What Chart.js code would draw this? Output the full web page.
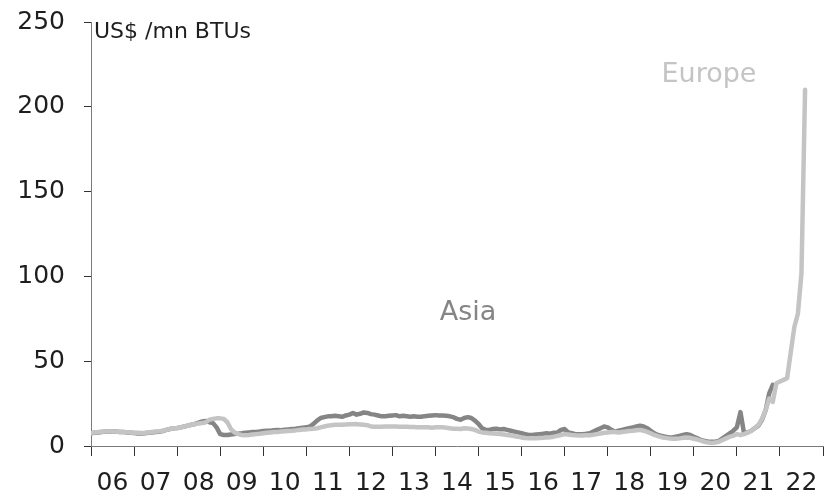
<!DOCTYPE html>
<html>
<head>
<meta charset="utf-8">
<script src="https://cdn.jsdelivr.net/npm/chart.js@4.4.1/dist/chart.umd.min.js"></script>
<style>
  html, body { margin: 0; padding: 0; background: #fff; }
  #wrap { width: 825px; height: 499px; position: relative; }
</style>
</head>
<body>
<div id="wrap"><canvas id="gasChart"></canvas></div>
<script>
// monthly series, first point = Jan 2006
const startYear = 2006;
const yearLabels = ['06', '07', '08', '09', '10', '11', '12', '13', '14', '15', '16', '17', '18', '19', '20', '21', '22'];
const yTicks = [0, 50, 100, 150, 200, 250];

const asiaPrices = [
    7.5, 7.8, 8, 8.3, 8.5, 8.4, 8.6, 8.5, 8.3, 8.2, 8, 7.8,          // 06
    7.6, 7.4, 7.3, 7.5, 7.8, 8, 8.2, 8.4, 8.8, 9.5, 10, 10.4,        // 07
    10.6, 11, 11.5, 12, 12.5, 13, 13.8, 14.5, 14.8, 14, 13.5, 11,    // 08
    7, 6.5, 6.5, 6.8, 7, 7.3, 7.5, 7.8, 8, 8.2, 8.3, 8.5,            // 09
    8.8, 9, 9, 9.3, 9.5, 9.3, 9.6, 9.8, 10, 10.2, 10.5, 10.8,        // 10
    11, 11.5, 13, 15, 16.5, 17, 17.5, 17.5, 17.8, 17.5, 17.2, 18,    // 11
    18.5, 19.5, 18.5, 19, 19.8, 19.5, 18.8, 18.5, 18, 17.5, 17.6, 17.8, // 12
    18, 18.2, 17.5, 17.8, 17.5, 17.2, 17.5, 17.3, 17.2, 17.6, 17.8, 18, // 13
    18.2, 18, 18, 17.8, 17.5, 17, 16, 15.5, 16.5, 17, 16.5, 15,      // 14
    13, 10.5, 9.5, 9.5, 10, 10.2, 9.8, 10, 9.5, 9, 8.5, 8,           // 15
    7.5, 7, 6.5, 6.5, 6.8, 7, 7.2, 7.5, 7.2, 7.8, 8, 9.5,            // 16
    10, 8, 7.5, 7, 7, 7, 7.2, 7.5, 8.5, 9.5, 10.5, 11.5,             // 17
    11, 9.5, 8.5, 9, 9.5, 10, 10.5, 11, 11.5, 12, 11.5, 10.5,        // 18
    9, 7.5, 6.5, 6, 5.5, 5, 5, 5.5, 6, 6.5, 7, 6.5,                  // 19
    5.5, 4.5, 3.5, 3, 2.5, 2.5, 2.5, 3, 4.5, 6, 7.5, 9,              // 20
    11, 20, 7.5, 8, 9, 10.5, 12, 15.5, 21, 31, 36                    // 21
];

const europePrices = [
    7.5, 8, 8.2, 8.4, 8.5, 8.6, 8.5, 8.5, 8.3, 8.3, 8.1, 8,          // 06
    7.8, 7.8, 7.7, 7.8, 8, 8.3, 8.5, 8.7, 9, 9.5, 10, 10.5,          // 07
    10.5, 11, 11.5, 12, 12.5, 13, 13.3, 13.5, 14, 15.5, 16, 16.3,    // 08
    16.3, 16, 14, 10, 8, 7, 6.5, 6.3, 6.5, 6.8, 7, 7.2,              // 09
    7.5, 7.8, 8, 8.2, 8.3, 8.5, 8.7, 8.9, 9, 9.2, 9.5, 9.7,          // 10
    9.8, 10, 10.2, 10.5, 11, 11.5, 12, 12.3, 12.5, 12.5, 12.6, 12.7, // 11
    12.8, 12.8, 12.9, 12.7, 12.5, 12.3, 11.5, 11.3, 11.3, 11.4, 11.5, 11.5, // 12
    11.5, 11.5, 11.4, 11.3, 11.3, 11.2, 11.2, 11, 11, 11, 11, 10.8,  // 13
    11, 11, 11, 10.8, 10.5, 10.2, 10.2, 10, 10.5, 10.3, 10, 9.5,     // 14
    8.5, 8, 7.8, 7.5, 7.3, 7.2, 7, 6.8, 6.5, 6.2, 5.8, 5.5,          // 15
    5, 4.7, 4.5, 4.5, 4.6, 4.7, 4.8, 5, 5.2, 5.5, 6, 6.5,            // 16
    7, 6.8, 6.5, 6.3, 6.2, 6.2, 6.3, 6.4, 6.6, 7, 7.4, 7.8,          // 17
    8, 8.2, 8.3, 8, 8.3, 8.5, 8.8, 9, 9.3, 9.5, 9, 8.3,              // 18
    7.5, 6.5, 5.8, 5.2, 4.8, 4.5, 4.3, 4.3, 4.5, 4.8, 5, 4.8,        // 19
    4.3, 3.8, 3.2, 2.5, 2, 1.8, 2, 2.5, 3.5, 4.5, 5.5, 6,            // 20
    7, 6.5, 7, 8, 9, 10.5, 12.5, 16, 21, 28, 26, 37,                 // 21
    38, 39, 40, 55, 70, 78, 102, 210                                 // 22
];

const palette = {
    asia: '#858585',
    europe: '#c4c4c4',
    axis: '#7a7a7a',
    text: '#1e1e1e'
};

const fontFamily = '"DejaVu Sans", sans-serif';

function toPoints(values) {
    return values.map((v, i) => ({ x: startYear + i / 12, y: v }));
}

// 系列名稱與單位
const textLabels = {
    id: 'textLabels',
    afterDraw(chart) {
        const { ctx, scales } = chart;
        const x = scales.x, y = scales.y;
        ctx.save();
        ctx.textAlign = 'left';
        ctx.textBaseline = 'top';
        ctx.fillStyle = palette.text;
        ctx.font = '22px ' + fontFamily;
        ctx.fillText('US$ /mn BTUs', x.getPixelForValue(2006.07), y.getPixelForValue(250) - 1);

        ctx.textBaseline = 'alphabetic';
        ctx.font = '27px ' + fontFamily;
        ctx.fillStyle = palette.asia;
        ctx.fillText('Asia', x.getPixelForValue(2014.1), y.getPixelForValue(74.3));
        ctx.fillStyle = palette.europe;
        ctx.fillText('Europe', x.getPixelForValue(2019.25), y.getPixelForValue(214.6));
        ctx.restore();
    }
};

new Chart(document.getElementById('gasChart'), {
    type: 'line',
    data: {
        datasets: [
            {
                label: 'Asia',
                data: toPoints(asiaPrices),
                borderColor: palette.asia,
                borderWidth: 4.5,
                pointRadius: 0,
                tension: 0,
                order: 1,
                borderJoinStyle: 'round',
                borderCapStyle: 'round'
            },
            {
                label: 'Europe',
                data: toPoints(europePrices),
                borderColor: palette.europe,
                borderWidth: 4.5,
                pointRadius: 0,
                tension: 0,
                order: 0,
                borderJoinStyle: 'round',
                borderCapStyle: 'round'
            }
        ]
    },
    options: {
        responsive: true,
        maintainAspectRatio: false,
        animation: false,
        layout: { padding: { left: 0, top: 22, right: 2, bottom: 0 } },
        plugins: {
            legend: { display: false },
            tooltip: { enabled: false }
        },
        scales: {
            x: {
                type: 'linear',
                min: 2006,
                max: 2023,
                afterBuildTicks: scale => {
                    const ticks = [];
                    yearLabels.forEach((lbl, i) => {
                        ticks.push({ value: startYear + i });
                        ticks.push({ value: startYear + i + 0.5 });
                    });
                    ticks.push({ value: startYear + yearLabels.length });
                    scale.ticks = ticks;
                },
                afterFit: scale => {
                    scale.height = 53;
                    scale.paddingLeft = 0;
                    scale.paddingRight = 0;
                },
                border: { display: true, color: palette.axis, width: 1 },
                grid: {
                    drawOnChartArea: false,
                    drawTicks: true,
                    tickLength: 10,
                    color: ctx => (ctx.tick && Number.isInteger(ctx.tick.value)) ? '#333' : 'rgba(0,0,0,0)'
                },
                ticks: {
                    autoSkip: false,
                    maxRotation: 0,
                    padding: 12,
                    color: palette.text,
                    font: { family: fontFamily, size: 25 },
                    callback: value => Number.isInteger(value) ? '' : yearLabels[Math.floor(value) - startYear]
                }
            },
            y: {
                min: 0,
                max: 250,
                afterBuildTicks: scale => { scale.ticks = yTicks.map(v => ({ value: v })); },
                afterFit: scale => {
                    scale.width = 91;
                    scale.paddingTop = 0;
                    scale.paddingBottom = 0;
                },
                border: { display: true, color: palette.axis, width: 1 },
                grid: {
                    drawOnChartArea: false,
                    drawTicks: true,
                    tickLength: 7,
                    color: '#333'
                },
                ticks: {
                    padding: 19,
                    color: palette.text,
                    font: { family: fontFamily, size: 25 }
                }
            }
        }
    },
    plugins: [textLabels]
});
</script>
</body>
</html>
